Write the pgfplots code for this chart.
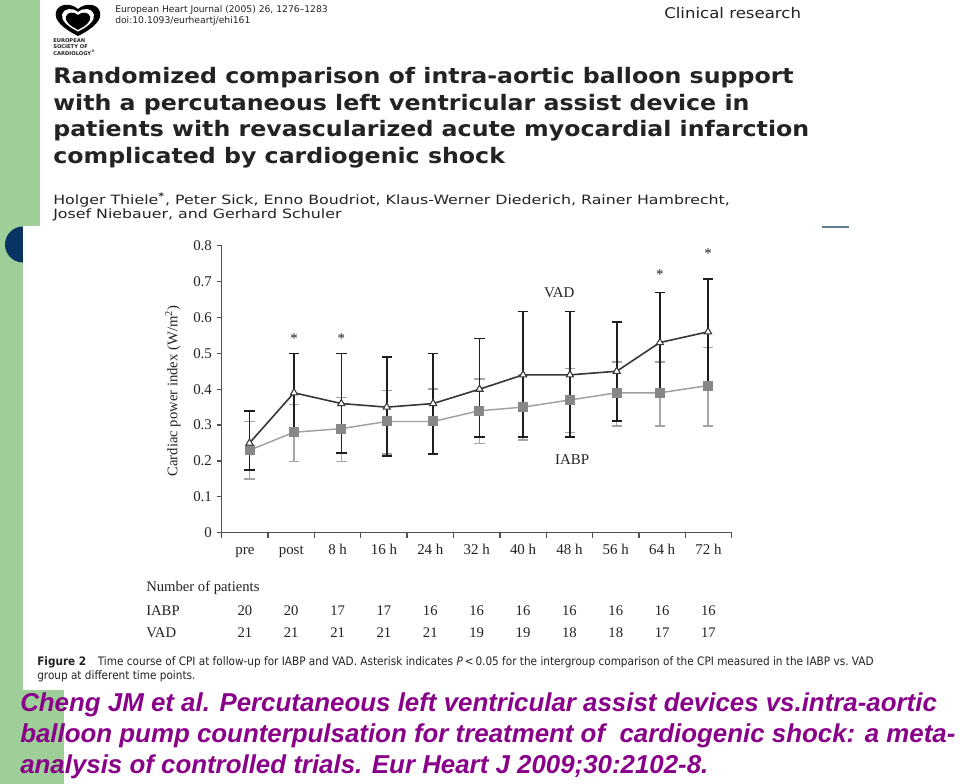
\documentclass[border=0pt]{standalone}
\usepackage{fontspec}
\setmainfont{Liberation Serif}
\newfontfamily\hdr{DejaVu Sans}
\newfontfamily\hdrc{DejaVu Sans Condensed}
\newfontfamily\citef{Liberation Sans}
\usepackage{pgfplots}
\usepackage{pgfplotstable}
\pgfplotsset{compat=1.18}
\definecolor{slidegreen}{RGB}{158,207,153}
\definecolor{navy}{RGB}{8,52,100}
\definecolor{purp}{RGB}{137,0,137}
\definecolor{axisgray}{RGB}{80,80,80}
\definecolor{vadline}{RGB}{55,55,55}
\definecolor{vaderr}{RGB}{30,30,30}
\definecolor{iabpline}{RGB}{160,160,160}
\definecolor{iabpfill}{RGB}{135,135,135}
\definecolor{iabperr}{RGB}{165,165,165}
\definecolor{txt}{RGB}{35,35,35}
\definecolor{lineblue}{RGB}{95,125,145}

\pgfplotstableread{
x y ep em
0.60 0.25 0.090 0.075
1.56 0.39 0.110 0.110
2.58 0.36 0.140 0.137
3.56 0.35 0.140 0.136
4.56 0.36 0.140 0.140
5.56 0.40 0.141 0.133
6.50 0.44 0.177 0.173
7.51 0.44 0.177 0.173
8.52 0.45 0.138 0.138
9.45 0.53 0.139 0.140
10.49 0.56 0.147 0.150
}\vad

\pgfplotstableread{
x y ep em
0.60 0.23 0.080 0.080
1.56 0.28 0.078 0.082
2.58 0.29 0.087 0.092
3.56 0.31 0.087 0.090
4.56 0.31 0.090 0.090
5.56 0.34 0.088 0.091
6.50 0.35 0.090 0.092
7.51 0.37 0.088 0.091
8.52 0.39 0.086 0.092
9.45 0.39 0.086 0.092
10.49 0.41 0.106 0.112
}\iabp

\newcommand\heart{(78,36) .. controls (62,28) and (54,20) .. (56,12) .. controls (58,4) and (70,2) .. (78,9) .. controls (86,2) and (98,4) .. (100,12) .. controls (102,20) and (94,28) .. (78,36) -- cycle}

\begin{document}
\begin{tikzpicture}[x=0.75pt,y=-0.75pt]
\useasboundingbox (0,0) rectangle (960,784);
\fill[white] (0,0) rectangle (960,784);
\fill[slidegreen] (0,0) rectangle (64,784);
\fill[navy] (23,244.5) circle (18);
\fill[white] (40,0) rectangle (855,226);
\fill[white] (23,226) rectangle (875,690);
\draw[line width=1.6pt, lineblue] (822,227) -- (849,227);

% header logo
\fill[black] \heart;
\begin{scope}[shift={(78,20)}, scale=0.72, shift={(-78,-20)}]
\fill[white] \heart;
\end{scope}
\begin{scope}[shift={(78,21)}, scale=0.55, shift={(-78,-20)}]
\fill[black] \heart;
\end{scope}
\begin{scope}[every node/.style={anchor=west, inner sep=0pt, text=txt, font=\hdr\bfseries\fontsize{3.9}{4}\selectfont}]
\node at (53,41) {EUROPEAN};
\node at (53,47) {SOCIETY OF};
\node at (53,53) {CARDIOLOGY\textsuperscript{\textregistered}};
\end{scope}

\begin{scope}[every node/.style={anchor=west, inner sep=0pt, text=txt}]
\node[font=\hdr\fontsize{6.9}{8}\selectfont] at (115,10) {European Heart Journal (2005) 26, 1276–1283};
\node[font=\hdr\fontsize{6.9}{8}\selectfont] at (115,21) {doi:10.1093/eurheartj/ehi161};
\node[font=\hdr\fontsize{11}{12}\selectfont, xscale=1.13] at (664,13) {Clinical research};
\node[font=\hdr\bfseries\fontsize{16}{17}\selectfont, xscale=1.11] at (53,78) {Randomized comparison of intra-aortic balloon support};
\node[font=\hdr\bfseries\fontsize{16}{17}\selectfont, xscale=1.11] at (53,105) {with a percutaneous left ventricular assist device in};
\node[font=\hdr\bfseries\fontsize{16}{17}\selectfont, xscale=1.11] at (53,131) {patients with revascularized acute myocardial infarction};
\node[font=\hdr\bfseries\fontsize{16}{17}\selectfont, xscale=1.11] at (53,158) {complicated by cardiogenic shock};
\node[font=\hdr\fontsize{9.6}{10}\selectfont, xscale=1.235] at (53,200) {Holger Thiele\textsuperscript{\textbf{*}}, Peter Sick, Enno Boudriot, Klaus-Werner Diederich, Rainer Hambrecht,};
\node[font=\hdr\fontsize{9.6}{10}\selectfont, xscale=1.235] at (53,215) {Josef Niebauer, and Gerhard Schuler};
\end{scope}

% chart
\begin{scope}[x=1cm,y=1cm]
\begin{axis}[
  at={(166.275pt,-399.525pt)}, anchor=south west,
  scale only axis, width=382.5pt, height=215.25pt,
  xmin=0, xmax=11, ymin=0, ymax=0.8,
  axis x line*=bottom, axis y line*=left,
  axis line style={-, line width=1.1pt, color=axisgray},
  xtick={0,...,11}, x tick label as interval,
  xticklabels={pre,post,8 h,16 h,24 h,32 h,40 h,48 h,56 h,64 h,72 h},
  xticklabel style={text height=1.6ex, text depth=0.3ex, yshift=-1.5pt},
  ytick={0,0.1,...,0.8},
  yticklabels={0,0.1,0.2,0.3,0.4,0.5,0.6,0.7,0.8},
  tick align=outside, major tick length=3.8pt,
  tick style={line width=1pt, color=axisgray},
  tick label style={font=\fontsize{11.2}{12}\selectfont, text=txt},
  clip=false,
]
\addplot[iabpline, line width=1.1pt, mark=square*,
  mark options={fill=iabpfill, draw=iabpfill, mark size=3.2pt},
  error bars/.cd, y dir=both, y explicit,
  error bar style={color=iabperr, line width=1.1pt},
  error mark options={color=iabperr, line width=1.1pt, mark size=3.9pt, rotate=90}]
  table[x=x, y=y, y error plus=ep, y error minus=em] {\iabp};
\addplot[vadline, line width=1.2pt, mark=triangle*,
  mark options={fill=white, draw=vadline, mark size=3.1pt, line width=0.8pt},
  error bars/.cd, y dir=both, y explicit,
  error bar style={color=vaderr, line width=1.2pt},
  error mark options={color=vaderr, line width=1.2pt, mark size=3.9pt, rotate=90}]
  table[x=x, y=y, y error plus=ep, y error minus=em] {\vad};
\begin{scope}[every node/.style={inner sep=0pt, font=\fontsize{11.2}{12}\selectfont, text=txt}]
\node at (axis cs:1.56,0.540) {*};
\node at (axis cs:2.58,0.540) {*};
\node at (axis cs:9.45,0.720) {*};
\node at (axis cs:10.49,0.778) {*};
\node at (axis cs:7.28,0.669) {VAD};
\node at (axis cs:7.56,0.204) {IABP};
\end{scope}
\end{axis}
\end{scope}

\node[rotate=90, inner sep=0pt, text=txt, font=\fontsize{11}{12}\selectfont] at (173,391) {Cardiac power index (W/m\textsuperscript{2})};

% patients table
\begin{scope}[every node/.style={inner sep=0pt, text=txt, font=\fontsize{11}{12}\selectfont}]
\node[anchor=west] at (146,588) {Number of patients};
\node[anchor=west] at (146,611) {IABP};
\node[anchor=west] at (146,633) {VAD};
\foreach \v [count=\i from 0] in {20,20,17,17,16,16,16,16,16,16,16}
  \node at ({221.7+46.36*(\i+0.5)},611) {\v};
\foreach \v [count=\i from 0] in {21,21,21,21,21,19,19,18,18,17,17}
  \node at ({221.7+46.36*(\i+0.5)},633) {\v};
\end{scope}

% caption
\begin{scope}[every node/.style={anchor=west, inner sep=0pt, text=txt, font=\hdrc\fontsize{8.75}{9}\selectfont}]
\node at (37,662) {\textbf{Figure 2}\quad Time course of CPI at follow-up for IABP and VAD. Asterisk indicates \textit{P}\,<\,0.05 for the intergroup comparison of the CPI measured in the IABP vs.\ VAD};
\node at (37,676) {group at different time points.};
\end{scope}

% citation
\begin{scope}[every node/.style={anchor=base west, inner sep=0pt, text=purp, font=\citef\bfseries\itshape\fontsize{19.4}{21}\selectfont}]
\node at (20,711) {Cheng JM et al. Percutaneous left ventricular assist devices vs.intra-aortic};
\node at (20,742) {balloon pump counterpulsation for treatment of\ \ cardiogenic shock: a meta-};
\node at (20,773) {analysis of controlled trials. Eur Heart J 2009;30:2102-8.};
\end{scope}
\end{tikzpicture}
\end{document}
